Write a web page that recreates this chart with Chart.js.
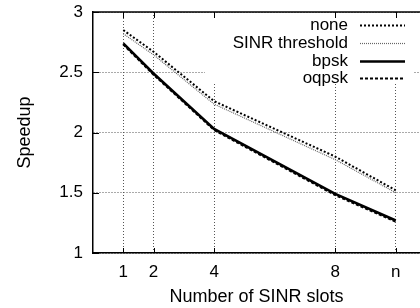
<!DOCTYPE html>
<html>
<head>
<meta charset="utf-8">
<script src="https://cdn.jsdelivr.net/npm/chart.js@4/dist/chart.umd.min.js"></script>
<style>
html,body{margin:0;padding:0;background:#fff;overflow:hidden;}
#wrap{width:420px;height:308px;position:relative;}
</style>
</head>
<body>
<div id="wrap"><canvas id="c" width="420" height="308"></canvas></div>
<script>
// ---- data ----
const slots = [1, 2, 4, 8, 10];          // 10 is shown as "n"
const slotLabels = ['1', '2', '4', '8', 'n'];
const seriesNames = ['none', 'SINR threshold', 'bpsk', 'oqpsk'];
const noneVals = [2.85, 2.67, 2.26, 1.80, 1.52];
const sinrVals = [2.82, 2.645, 2.235, 1.775, 1.50];
const bpskVals = [2.74, 2.49, 2.03, 1.49, 1.27];
const oqpskVals = [2.73, 2.48, 2.02, 1.48, 1.26];
const yTicks = [1, 1.5, 2, 2.5, 3];

const FONT = "'Liberation Sans', Arial, Helvetica, sans-serif";

function pts(vals){ return slots.map((x,i)=>({x:x, y:vals[i]})); }

const styles = [
  {borderColor:'#000', borderWidth:2, borderDash:[2,2]},
  {borderColor:'#666', borderWidth:1.2, borderDash:[1,1]},
  {borderColor:'#000', borderWidth:2.6, borderDash:[]},
  {borderColor:'#000', borderWidth:2, borderDash:[3,2]}
];
const allVals = [noneVals, sinrVals, bpskVals, oqpskVals];

const datasets = seriesNames.map((name,i)=>Object.assign({
  label: name,
  data: pts(allVals[i]),
  pointRadius: 0,
  tension: 0,
  fill: false,
  borderCapStyle: 'butt'
}, styles[i]));

const framePlugin = {
  id: 'frame',
  beforeDatasetsDraw(chart){
    const ctx = chart.ctx, a = chart.chartArea;
    const xs = chart.scales.x, ys = chart.scales.y;
    ctx.save();
    // legend (opaque key)
    const kx0 = 205, kx1 = 414, ky0 = a.top + 1, ky1 = a.top + 72;
    ctx.fillStyle = '#fff';
    ctx.fillRect(kx0, ky0, kx1 - kx0, ky1 - ky0);
    // inward ticks
    ctx.strokeStyle = '#000'; ctx.lineWidth = 1; ctx.setLineDash([]);
    slots.forEach(v=>{
      const px = Math.round(xs.getPixelForValue(v)) + 0.5;
      ctx.beginPath();
      ctx.moveTo(px, a.bottom); ctx.lineTo(px, a.bottom - 5);
      ctx.moveTo(px, a.top); ctx.lineTo(px, a.top + 6);
      ctx.stroke();
    });
    yTicks.forEach(v=>{
      const py = Math.round(ys.getPixelForValue(v)) + 0.5;
      ctx.beginPath();
      ctx.moveTo(a.left, py); ctx.lineTo(a.left + 6, py);
      ctx.stroke();
    });
    // top border
    ctx.lineWidth = 1.5;
    ctx.beginPath();
    ctx.moveTo(a.left, a.top); ctx.lineTo(a.right, a.top);
    ctx.stroke();
    ctx.font = '17px ' + FONT;
    ctx.textAlign = 'right';
    ctx.textBaseline = 'middle';
    const rowY = [25, 43, 61, 78].map(y => y - 12 + a.top);
    chart.data.datasets.forEach((ds,i)=>{
      ctx.fillStyle = '#000';
      ctx.fillText(ds.label, 348, rowY[i]);
      ctx.strokeStyle = ds.borderColor;
      ctx.lineWidth = ds.borderWidth;
      ctx.setLineDash(ds.borderDash);
      ctx.beginPath();
      ctx.moveTo(360, rowY[i] + 0.5); ctx.lineTo(405, rowY[i] + 0.5);
      ctx.stroke();
    });
    ctx.restore();
  }
};

new Chart(document.getElementById('c'), {
  type: 'line',
  data: { datasets },
  plugins: [framePlugin],
  options: {
    responsive: false,
    animation: false,
    layout: { padding: { top: 12, right: 0, left: 0, bottom: 0 } },
    plugins: { legend: { display: false }, tooltip: { enabled: false } },
    scales: {
      x: {
        type: 'linear',
        min: 0, max: 10.8,
        afterBuildTicks(scale){ scale.ticks = slots.map(v=>({value:v})); },
        afterFit(scale){ scale.height = 55; scale.paddingLeft = 0; scale.paddingRight = 0; },
        ticks: {
          autoSkip: false, maxRotation: 0, padding: 9,
          color: '#000', font: { family: FONT, size: 17 },
          callback(v){ const i = slots.indexOf(v); return i >= 0 ? slotLabels[i] : ''; }
        },
        grid: { color: '#555', lineWidth: 1, drawTicks: false },
        border: { display: true, color: '#000', width: 1.5, dash: [1, 2] },
        title: { display: true, text: 'Number of SINR slots', color: '#000',
                 font: { family: FONT, size: 18 }, padding: { top: 0, bottom: 0 } }
      },
      y: {
        type: 'linear',
        min: 1, max: 3,
        afterBuildTicks(scale){ scale.ticks = yTicks.map(v=>({value:v})); },
        afterFit(scale){ scale.width = 93; scale.paddingTop = 0; scale.paddingBottom = 0; },
        ticks: {
          padding: 10, color: '#000', font: { family: FONT, size: 17 },
          callback(v){ return String(v); }
        },
        grid: { color: '#555', lineWidth: 1, drawTicks: false },
        border: { display: true, color: '#000', width: 1.5, dash: [1, 2] },
        title: { display: true, text: 'Speedup', color: '#000',
                 font: { family: FONT, size: 18 }, padding: { top: 14, bottom: 0 } }
      }
    }
  }
});
</script>
</body>
</html>
